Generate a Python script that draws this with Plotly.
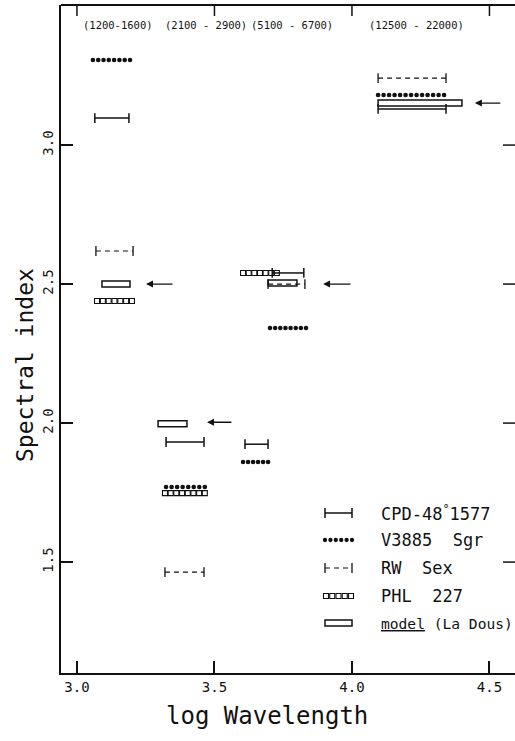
import numpy as np
import plotly.graph_objects as go

# ---------------- data ----------------
x_ticks = [3.0, 3.5, 4.0, 4.5]
x_tick_text = ["3.0", "3.5", "4.0", "4.5"]
y_ticks = [1.5, 2.0, 2.5, 3.0]
y_tick_text = ["1.5", "2.0", "2.5", "3.0"]

band_labels = ["(1200-1600)", "(2100 - 2900)", "(5100 - 6700)", "(12500 - 22000)"]
band_centers = [3.149, 3.469, 3.782, 4.236]

cpd_x0 = [3.065, 3.324, 3.611, 3.710, 4.095]
cpd_x1 = [3.189, 3.462, 3.695, 3.825, 4.342]
cpd_y = [3.097, 1.932, 1.924, 2.540, 3.130]

v3885_x0 = [3.058, 3.324, 3.604, 3.702, 4.095]
v3885_x1 = [3.193, 3.465, 3.695, 3.833, 4.335]
v3885_y = [3.306, 1.770, 1.860, 2.342, 3.180]

rw_x0 = [3.069, 3.320, 3.695, 4.095]
rw_x1 = [3.204, 3.462, 3.829, 4.342]
rw_y = [2.619, 1.464, 2.500, 3.241]

phl_x0 = [3.073, 3.320, 3.604]
phl_x1 = [3.200, 3.465, 3.727]
phl_y = [2.439, 1.748, 2.540]

model_x0 = [3.091, 3.295, 3.695, 4.095]
model_x1 = [3.193, 3.400, 3.800, 4.400]
model_y = [2.500, 1.998, 2.504, 3.151]

arrow_head_x = [3.251, 3.473, 3.895, 4.447]
arrow_tail_x = [3.353, 3.567, 4.000, 4.545]
arrow_y = [2.500, 2.003, 2.500, 3.151]

legend_names = ["CPD-48<sup>°</sup>1577", "V3885  Sgr", "RW  Sex", "PHL  227",
                "<u>model</u> (La Dous)"]

# ---------------- layout constants ----------------
W, H = 515, 741
ML, MR, MT, MB = 61, 0, 5, 68
PX_PER_X = 275.0
PX_PER_Y = 278.0
PW = W - ML - MR
PH = H - MT - MB
x_lo = 2.942
x_hi = x_lo + PW / PX_PER_X
y_lo = 1.101
y_hi = y_lo + PH / PX_PER_Y

FONT = "DejaVu Sans Mono, monospace"
BLACK = "#111111"


def segments(x0s, x1s, ys):
    xs, yy = [], []
    for a, b, y in zip(x0s, x1s, ys):
        xs += [a, b, None]
        yy += [y, y, None]
    return xs, yy


def pattern(x0s, x1s, ys, spacing_px):
    xs, yy = [], []
    for a, b, y in zip(x0s, x1s, ys):
        n = int(round((b - a) * PX_PER_X / spacing_px)) + 1
        pts = np.linspace(a, b, n)
        xs += list(pts)
        yy += [y] * n
    return xs, yy


def paper_x(px):
    return (px - ML) / PW


def paper_y(py):
    return (H - MB - py) / PH


fig = go.Figure()

# CPD-48 1577 : solid line with end caps
cx, cy = segments(cpd_x0, cpd_x1, cpd_y)
fig.add_trace(go.Scatter(x=cx, y=cy, mode="lines+markers",
                         line=dict(color=BLACK, width=1.5),
                         marker=dict(symbol="line-ns-open", size=7,
                                     line=dict(color=BLACK, width=1.5)),
                         showlegend=False, hoverinfo="skip"))

# RW Sex : dashed line with end caps
rx, ry = segments(rw_x0, rw_x1, rw_y)
fig.add_trace(go.Scatter(x=rx, y=ry, mode="lines+markers",
                         line=dict(color=BLACK, width=1.2, dash="5px,4px"),
                         marker=dict(symbol="line-ns-open", size=7,
                                     line=dict(color=BLACK, width=1.3)),
                         showlegend=False, hoverinfo="skip"))

# V3885 Sgr : row of dots
vx, vy = pattern(v3885_x0, v3885_x1, v3885_y, 5.3)
fig.add_trace(go.Scatter(x=vx, y=vy, mode="markers",
                         marker=dict(symbol="circle", size=4.6, color=BLACK),
                         showlegend=False, hoverinfo="skip"))

# PHL 227 : row of open squares
px_, py_ = pattern(phl_x0, phl_x1, phl_y, 5.8)
fig.add_trace(go.Scatter(x=px_, y=py_, mode="markers",
                         marker=dict(symbol="square-open", size=5,
                                     color=BLACK, line=dict(width=1.1)),
                         showlegend=False, hoverinfo="skip"))

shapes = []
# model boxes
for a, b, y in zip(model_x0, model_x1, model_y):
    shapes.append(dict(type="rect", xref="x", yref="y", x0=a, x1=b,
                       ysizemode="pixel", yanchor=y, y0=-3, y1=3,
                       line=dict(color=BLACK, width=1.5), fillcolor="white",
                       layer="below"))

# top frame line and inward ticks on top and right
shapes.append(dict(type="line", xref="paper", yref="paper", x0=0, x1=1,
                   y0=1, y1=1, line=dict(color=BLACK, width=2)))
for xv in x_ticks:
    shapes.append(dict(type="line", xref="x", yref="paper", x0=xv, x1=xv,
                       ysizemode="pixel", yanchor=1, y0=0, y1=-11,
                       line=dict(color=BLACK, width=1.5)))
for yv in y_ticks:
    shapes.append(dict(type="line", xref="paper", yref="y", y0=yv, y1=yv,
                       xsizemode="pixel", xanchor=1, x0=-12, x1=0,
                       line=dict(color=BLACK, width=1.5)))

annotations = []
# arrows pointing left
for hx, tx, y in zip(arrow_head_x, arrow_tail_x, arrow_y):
    annotations.append(dict(x=hx, y=y, ax=tx, ay=y, xref="x", yref="y",
                            axref="x", ayref="y", text="", showarrow=True,
                            arrowhead=2, arrowsize=1.0, arrowwidth=1.4,
                            arrowcolor=BLACK))
# wavelength band labels
for lab, xc in zip(band_labels, band_centers):
    annotations.append(dict(x=xc, y=3.432, xref="x", yref="y", text=lab,
                            showarrow=False, font=dict(family=FONT, size=10.5,
                                                       color=BLACK)))

# ---------------- legend drawn in a pixel-space overlay ----------------
leg_rows = [513, 540, 568, 596, 623]
sx0, sx1 = 325, 352
text_x = 379

fig.add_trace(go.Scatter(x=[sx0, sx1], y=[leg_rows[0]] * 2, mode="lines+markers",
                         xaxis="x2", yaxis="y2",
                         line=dict(color=BLACK, width=1.5),
                         marker=dict(symbol="line-ns-open", size=7,
                                     line=dict(color=BLACK, width=1.5)),
                         showlegend=False, hoverinfo="skip"))
lvx = list(np.linspace(sx0, sx1, 6))
fig.add_trace(go.Scatter(x=lvx, y=[leg_rows[1]] * len(lvx), mode="markers",
                         xaxis="x2", yaxis="y2",
                         marker=dict(symbol="circle", size=4.3, color=BLACK),
                         showlegend=False, hoverinfo="skip"))
fig.add_trace(go.Scatter(x=[sx0, sx1], y=[leg_rows[2]] * 2, mode="lines+markers",
                         xaxis="x2", yaxis="y2",
                         line=dict(color=BLACK, width=1.2, dash="5px,4px"),
                         marker=dict(symbol="line-ns-open", size=7,
                                     line=dict(color=BLACK, width=1.3)),
                         showlegend=False, hoverinfo="skip"))
lpx = list(np.linspace(sx0 + 1, sx1 - 1, 5))
fig.add_trace(go.Scatter(x=lpx, y=[leg_rows[3]] * len(lpx), mode="markers",
                         xaxis="x2", yaxis="y2",
                         marker=dict(symbol="square-open", size=5, color=BLACK,
                                     line=dict(width=1.1)),
                         showlegend=False, hoverinfo="skip"))
shapes.append(dict(type="rect", xref="x2", yref="y2", x0=sx0, x1=sx1,
                   y0=leg_rows[4] - 3, y1=leg_rows[4] + 3,
                   line=dict(color=BLACK, width=1.5), fillcolor="white"))

for i, (name, ry_) in enumerate(zip(legend_names, leg_rows)):
    annotations.append(dict(x=text_x, y=ry_, xref="x2", yref="y2", text=name,
                            showarrow=False, xanchor="left", yanchor="middle",
                            font=dict(family=FONT, size=14.6 if i == 4 else 17,
                                      color=BLACK)))

# axis titles (paper coordinates)
annotations.append(dict(x=paper_x(267), y=paper_y(716), xref="paper", yref="paper",
                        text="log Wavelength", showarrow=False,
                        xanchor="center", yanchor="middle",
                        font=dict(family=FONT, size=24, color=BLACK)))
annotations.append(dict(x=paper_x(25), y=paper_y(365), xref="paper", yref="paper",
                        text="Spectral index", showarrow=False, textangle=-90,
                        xanchor="center", yanchor="middle",
                        font=dict(family=FONT, size=23, color=BLACK)))

fig.update_layout(
    width=W, height=H,
    margin=dict(l=ML, r=MR, t=MT, b=MB, pad=0, autoexpand=False),
    paper_bgcolor="white", plot_bgcolor="white",
    showlegend=False,
    xaxis=dict(range=[x_lo, x_hi], tickvals=x_ticks, ticktext=x_tick_text,
               ticks="inside", ticklen=12, tickwidth=1.5, tickcolor=BLACK,
               showline=True, linewidth=2, linecolor=BLACK, mirror=False,
               showgrid=False, zeroline=False,
               tickfont=dict(family=FONT, size=14, color=BLACK)),
    yaxis=dict(range=[y_lo, y_hi], tickvals=y_ticks, ticktext=y_tick_text,
               ticks="inside", ticklen=12, tickwidth=1.5, tickcolor=BLACK,
               showline=True, linewidth=2, linecolor=BLACK, mirror=False,
               showgrid=False, zeroline=False, tickangle=-90,
               tickfont=dict(family=FONT, size=14, color=BLACK)),
    xaxis2=dict(range=[ML, W - MR], overlaying="x", anchor="y2", visible=False,
                showgrid=False, zeroline=False),
    yaxis2=dict(range=[H - MB, MT], overlaying="y", anchor="x2", visible=False,
                showgrid=False, zeroline=False),
    shapes=shapes,
    annotations=annotations,
)

fig.write_html("out.html",
               config={"displayModeBar": False},
               post_script="document.body.style.margin='0';"
                           "document.body.style.overflow='hidden';")
